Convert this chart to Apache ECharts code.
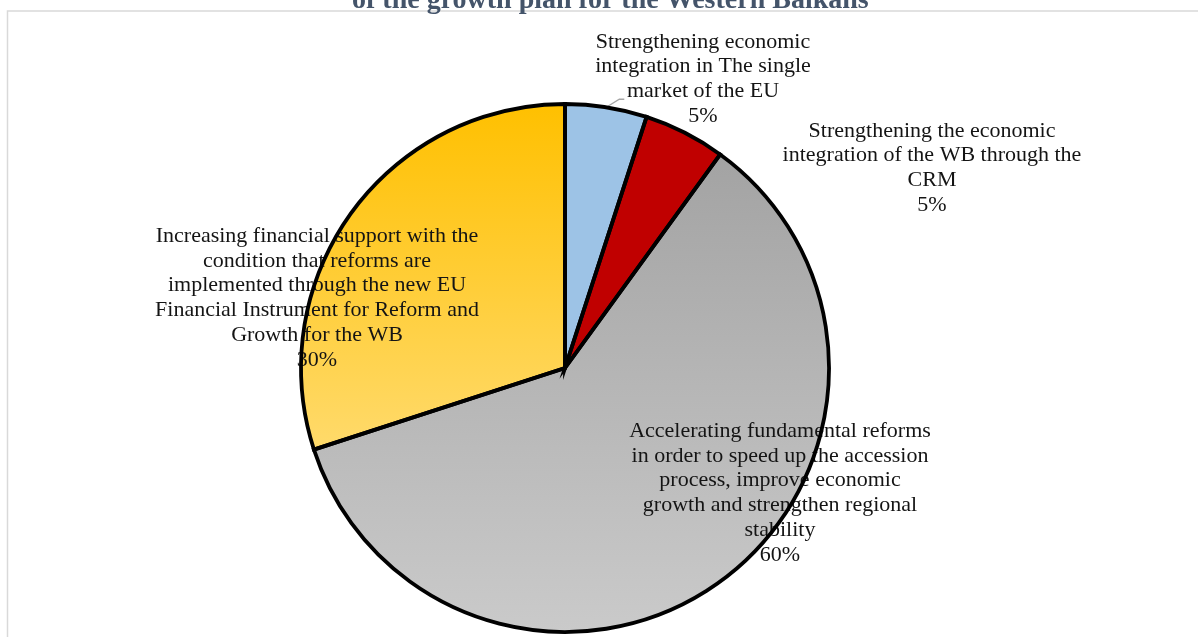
<!DOCTYPE html>
<html>
<head>
<meta charset="utf-8">
<title>Growth plan for the Western Balkans</title>
<script src="https://cdn.jsdelivr.net/npm/echarts@6/dist/echarts.min.js"></script>
<style>
  html, body { margin: 0; padding: 0; background: #ffffff; }
  #chart { width: 1198px; height: 637px; }
</style>
</head>
<body>
<div id="chart"></div>
<script>
// Components of the growth plan and their shares (%)
const categories = [
  'Strengthening economic\nintegration in The single\nmarket of the EU',
  'Strengthening the economic\nintegration of the WB through the\nCRM',
  'Accelerating fundamental reforms\nin order to speed up the accession\nprocess, improve economic\ngrowth and strengthen regional\nstability',
  'Increasing financial support with the\ncondition that reforms are\nimplemented through the new EU\nFinancial Instrument for Reform and\nGrowth for the WB'
];
const shares = [5, 5, 60, 30];
const titleText = 'of the growth plan for the Western Balkans';

// Slice fills
const fills = [
  '#9DC3E6',
  '#C00000',
  { type: 'linear', x: 0, y: 0, x2: 0, y2: 1,
    colorStops: [{ offset: 0, color: '#A3A3A3' }, { offset: 1, color: '#CACACA' }] },
  { type: 'linear', x: 0, y: 0, x2: 0, y2: 1,
    colorStops: [{ offset: 0, color: '#FFC000' }, { offset: 1, color: '#FFDA6B' }] }
];

// Where each data label sits (centre of the text block)
const labelSpots = [[703, 79], [932, 168], [780, 493], [317, 298]];

const FONT = '"Liberation Serif", "Times New Roman", serif';
const center = [565, 368];
const radius = 264;

const chart = echarts.init(document.getElementById('chart'), null, { renderer: 'canvas' });

const fillData = categories.map((name, i) => ({
  name: name,
  value: shares[i],
  itemStyle: { color: fills[i] },
  labelLine: { show: i === 0 }
}));
const outlineData = categories.map((name, i) => ({ name: name, value: shares[i] }));

chart.setOption({
  backgroundColor: '#ffffff',
  animation: false,
  title: {
    text: titleText,
    left: 347,
    top: -21,
    textStyle: { fontFamily: FONT, fontSize: 28, fontWeight: 'bold', color: '#44546A', lineHeight: 33 }
  },
  graphic: [{
    type: 'rect',
    z: -10,
    shape: { x: 7.5, y: 11, width: 1400, height: 800 },
    style: { fill: 'none', stroke: '#D9D9D9', lineWidth: 1.5 }
  }],
  series: [
    {
      type: 'pie',
      z: 2,
      center: center,
      radius: radius,
      startAngle: 90,
      clockwise: true,
      silent: true,
      data: fillData,
      itemStyle: { borderWidth: 0 },
      label: {
        show: true,
        formatter: '{b}\n{d}%',
        fontFamily: FONT,
        fontSize: 22,
        lineHeight: 24.8,
        color: '#141414',
        align: 'center',
        overflow: 'none'
      },
      labelLine: {
        show: false,
        length: 6,
        length2: 6,
        lineStyle: { color: '#A6A6A6', width: 1.3 }
      },
      labelLayout: function (params) {
        const p = labelSpots[params.dataIndex];
        const out = { x: p[0], y: p[1], align: 'center', verticalAlign: 'middle' };
        const pts = params.labelLinePoints;
        if (pts && pts.length) {
          // short elbow from the slice edge up to the start of the label's last text line
          const s = pts[0];
          out.labelLinePoints = [[s[0], s[1]], [s[0] + 13, s[1] - 8], [s[0] + 18, s[1] - 8]];
        }
        return out;
      }
    },
    {
      // outlines drawn above the labels
      type: 'pie',
      z: 5,
      center: center,
      radius: radius,
      startAngle: 90,
      clockwise: true,
      silent: true,
      data: outlineData,
      itemStyle: { color: 'rgba(0,0,0,0)', borderColor: '#000000', borderWidth: 3.8, borderJoin: 'miter' },
      label: { show: false },
      labelLine: { show: false }
    }
  ]
});
</script>
</body>
</html>
